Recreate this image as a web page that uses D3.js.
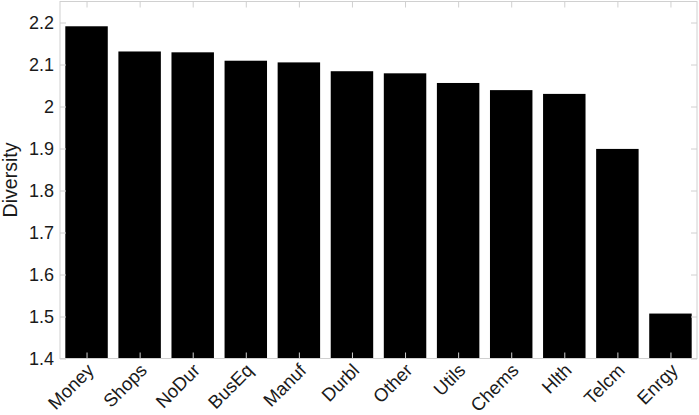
<!DOCTYPE html>
<html><head><meta charset="utf-8">
<script src="https://cdn.jsdelivr.net/npm/d3@7"></script>
<style>body{margin:0;background:#fff}svg{display:block}text{font-family:"Liberation Sans",Arial,Helvetica,sans-serif}</style>
</head><body><svg id="c" width="699" height="415"></svg>
<script>
const categories = ["Money","Shops","NoDur","BusEq","Manuf","Durbl","Other","Utils","Chems","Hlth","Telcm","Enrgy"];
const diversity = [2.191, 2.131, 2.129, 2.109, 2.105, 2.084, 2.079, 2.056, 2.039, 2.030, 1.899, 1.507];
const yTicks = [1.4, 1.5, 1.6, 1.7, 1.8, 1.9, 2, 2.1, 2.2];
const yLabel = "Diversity";

const svg = d3.select("#c");
const L = 60, R = 697, T = 1.5, B = 358.5;
const x = d3.scaleLinear().domain([0.5, categories.length + 0.5]).range([L, R]);
const y = d3.scaleLinear().domain([1.4, 2.25]).range([B, T]);
const axisCol = "#d0d0d0";
const step = x(2) - x(1);
const bw = step * 0.8;

svg.append("g").selectAll("rect").data(diversity).join("rect")
  .attr("x", (d, i) => x(i + 1) - bw / 2)
  .attr("width", bw)
  .attr("y", d => y(d))
  .attr("height", d => y(1.4) - y(d))
  .attr("fill", "#000");

svg.append("rect").attr("x", L).attr("y", T).attr("width", R - L).attr("height", B - T)
  .attr("fill", "none").attr("stroke", axisCol).attr("stroke-width", 1);

const idx = categories.map((c, i) => i + 1);
const fmt = d => String(d);

const gl = svg.append("g").attr("transform", `translate(${L},0)`)
  .call(d3.axisLeft(y).tickValues(yTicks).tickFormat(fmt).tickSizeInner(-6).tickSizeOuter(0).tickPadding(6));
const gr = svg.append("g").attr("transform", `translate(${R},0)`)
  .call(d3.axisRight(y).tickValues(yTicks).tickFormat("").tickSizeInner(-6).tickSizeOuter(0));
const gb = svg.append("g").attr("transform", `translate(0,${B})`)
  .call(d3.axisBottom(x).tickValues(idx).tickFormat((d) => categories[d - 1]).tickSizeInner(-6).tickSizeOuter(0));
const gt = svg.append("g").attr("transform", `translate(0,${T})`)
  .call(d3.axisTop(x).tickValues(idx).tickFormat("").tickSizeInner(-6).tickSizeOuter(0));

[gl, gr, gb, gt].forEach(g => {
  g.select(".domain").remove();
  g.selectAll(".tick line").attr("stroke", axisCol);
});
gl.selectAll("text").attr("font-size", 18).attr("fill", "#1a1a1a");
gb.selectAll("text").attr("font-size", 18.5).attr("fill", "#1a1a1a")
  .attr("text-anchor", "end").attr("dy", 0).attr("y", 0)
  .attr("transform", "translate(8,13) rotate(-45)");

svg.append("text").attr("transform", `translate(16.5,${(T + B) / 2}) rotate(-90)`)
  .attr("text-anchor", "middle").attr("font-size", 19.5).attr("fill", "#1a1a1a").text(yLabel);
</script></body></html>
